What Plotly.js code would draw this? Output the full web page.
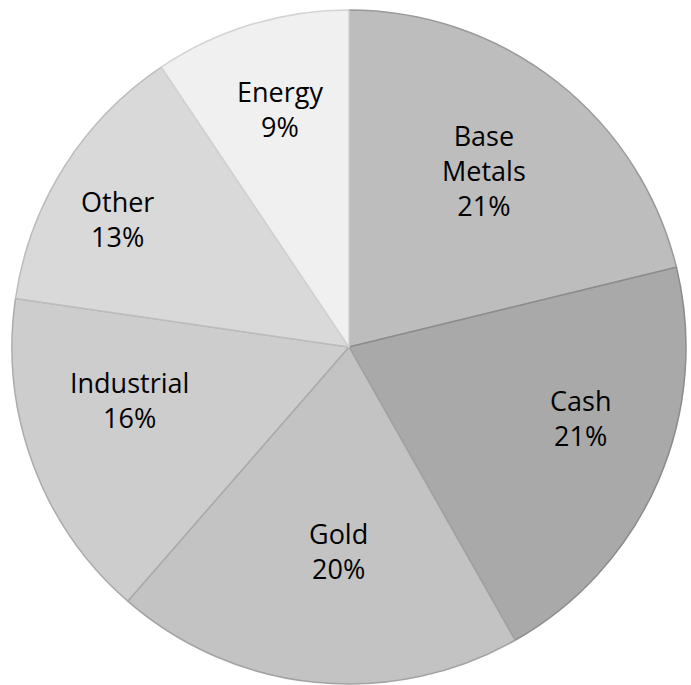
<!DOCTYPE html>
<html><head><meta charset="utf-8">
<script src="https://cdn.plot.ly/plotly-3.0.1.min.js"></script>
<style>html,body{margin:0;padding:0;background:#fff}</style>
</head><body><div id="chart" style="width:691px;height:685px"></div>
<script>
const categories = ["Base<br>Metals", "Cash", "Gold", "Industrial", "Other", "Energy"];
const values = [21.2, 20.6, 19.6, 15.9, 13.3, 9.4];
const sliceColors = ["#bdbdbd", "#a9a9a9", "#c3c3c3", "#cdcdcd", "#d9d9d9", "#f0f0f0"];
const edgeColors = ["#9a9a9a", "#8c8c8c", "#a3a3a3", "#ababab", "#bdbdbd", "#d3d3d3"];

// label block centres, in pixels of the 691x685 page (layout only)
const labelPx = [[484, 170], [580, 418], [338, 551], [129, 400], [117, 219], [280, 109]];

const W = 691, H = 685, M = {l: 12, r: 5, t: 10, b: 1};
const pw = W - M.l - M.r, ph = H - M.t - M.b;
const total = values.reduce((a, b) => a + b, 0);

const annotations = categories.map((c, i) => ({
  xref: "paper", yref: "paper",
  x: (labelPx[i][0] - M.l) / pw,
  y: 1 - (labelPx[i][1] - M.t) / ph,
  xanchor: "center", yanchor: "middle",
  showarrow: false,
  text: c + "<br>" + Math.round(values[i] / total * 100) + "%",
  font: {family: "Open Sans, sans-serif", size: 27, color: "#000"}
}));

Plotly.newPlot("chart", [{
  type: "pie",
  labels: categories,
  values: values,
  sort: false,
  direction: "clockwise",
  rotation: 0,
  marker: {colors: sliceColors, line: {color: edgeColors, width: 1.5}},
  textinfo: "none",
  hoverinfo: "none"
}], {
  width: W, height: H,
  margin: M,
  showlegend: false,
  paper_bgcolor: "#fff",
  annotations: annotations
}, {displayModeBar: false, staticPlot: true});
</script></body></html>
